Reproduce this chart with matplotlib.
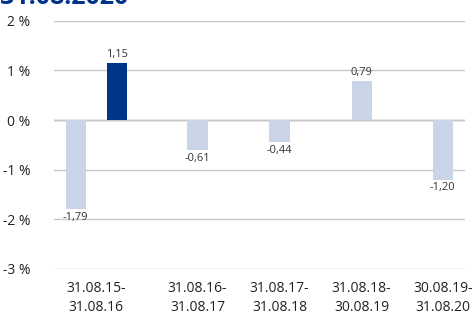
import matplotlib
matplotlib.use("Agg")
from matplotlib import pyplot as plt

plt.rcParams['font.family'] = ['Open Sans', 'DejaVu Sans']

periods = ["31.08.15-\n31.08.16", "31.08.16-\n31.08.17", "31.08.17-\n31.08.18",
           "31.08.18-\n30.08.19", "30.08.19-\n31.08.20"]
fund = [-1.79, -0.61, -0.44, 0.79, -1.20]
benchmark = [1.15]

light = "#c9d5e6"
dark = "#00348a"

# category centres (first one is wider, it holds two bars)
pos = [0, 1.24, 2.24, 3.24, 4.23]
w = 0.245

fig = plt.figure(figsize=(4.72, 3.16), dpi=100)
ax = fig.add_axes([0.114, 0.149, 0.871, 0.785])

fund_x = [pos[0] - 0.245] + pos[1:]
ax.bar(fund_x, fund, width=w, color=light, zorder=3)
ax.bar([pos[0] + 0.255], benchmark, width=w, color=dark, zorder=3)

def lab(v):
    return f"{v:.2f}".replace(".", ",")

for x, v in zip(fund_x, fund):
    ax.annotate(lab(v), (x, v), xytext=(0, -2 if v < 0 else 2), textcoords="offset points",
                ha="center", va="top" if v < 0 else "bottom", fontsize=8, color="#333333", zorder=4)
for x, v in zip([pos[0] + 0.255], benchmark):
    ax.annotate(lab(v), (x, v), xytext=(0, 2), textcoords="offset points",
                ha="center", va="bottom", fontsize=8, color="#333333", zorder=4)

ax.set_ylim(-3, 2)
ax.set_xlim(-0.512, 4.5)
ax.set_yticks([2, 1, 0, -1, -2, -3])
ax.set_yticklabels(["2 %", "1 %", "0 %", "-1 %", "-2 %", "-3 %"])
ax.set_xticks(pos)
ax.set_xticklabels(periods, linespacing=1.35)
ax.tick_params(length=0, labelsize=10, colors="#222222")
ax.tick_params(axis="y", pad=17)
ax.tick_params(axis="x", pad=9)
ax.grid(axis="y", color="#c8c8c8", linewidth=1, zorder=0)
ax.axhline(0, color="#a8a8a8", linewidth=1, zorder=1)
for s in ax.spines.values():
    s.set_visible(False)

# title sits mostly above the image edge, as in the source
fig.text(0.0, 1 - 4 / 316, "31.08.2020", fontsize=18, fontweight="bold", color=dark,
         ha="left", va="baseline")

fig.savefig("out.png", dpi=100)
